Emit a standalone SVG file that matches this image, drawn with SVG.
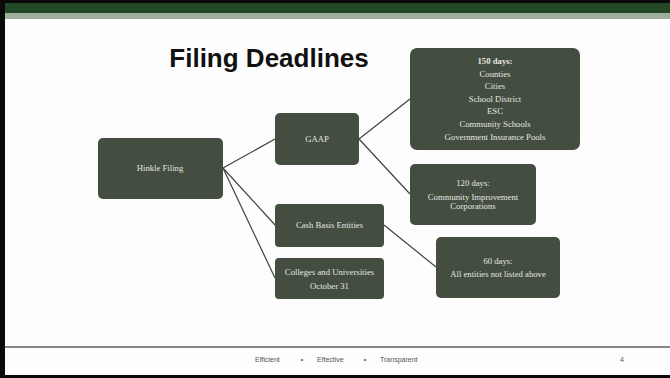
<svg xmlns="http://www.w3.org/2000/svg" width="670" height="378" viewBox="0 0 670 378">
  <style>
    .node rect { fill: #434d40; }
    .node text { font-family: "Liberation Serif", "Times New Roman", serif; font-size: 8.7px; fill: #e4e7e0; text-anchor: middle; }
    .edge { stroke: #3c4539; stroke-width: 1.2; fill: none; }
    .foot { font-family: "Liberation Sans", Arial, sans-serif; font-size: 7px; fill: #555; }
  </style>

  <!-- slide frame -->
  <rect x="0" y="0" width="670" height="378" fill="#fdfdfd"/>
  <rect x="0" y="0" width="670" height="3" fill="#0a0a0a"/>
  <rect x="0" y="3" width="670" height="10" fill="#224827"/>
  <rect x="0" y="13" width="670" height="6" fill="#9daf9c"/>
  <rect x="0" y="0" width="5" height="378" fill="#0a0a0a"/>
  <rect x="0" y="375" width="670" height="3" fill="#0a0a0a"/>
  <line x1="5" y1="347" x2="670" y2="347" stroke="#5f5f5f" stroke-width="1.5"/>

  <!-- title -->
  <text x="269" y="67" font-family="'Liberation Sans', Arial, sans-serif" font-size="26" font-weight="bold" fill="#111" text-anchor="middle">Filing Deadlines</text>

  <!-- connectors -->
  <g id="connectors">
    <line class="edge" x1="223" y1="168" x2="275" y2="139"/>
    <line class="edge" x1="223" y1="168" x2="275" y2="225"/>
    <line class="edge" x1="223" y1="168" x2="275" y2="278"/>
    <line class="edge" x1="359" y1="139" x2="410" y2="99"/>
    <line class="edge" x1="359" y1="139" x2="410" y2="194"/>
    <line class="edge" x1="384" y1="225" x2="436" y2="267"/>
  </g>

  <g id="hinkle" class="node">
    <rect x="98" y="138" width="125" height="61" rx="5"/>
    <text x="160" y="171">Hinkle Filing</text>
  </g>

  <g id="gaap" class="node">
    <rect x="275" y="113" width="84" height="52" rx="5"/>
    <text x="317" y="142">GAAP</text>
  </g>

  <g id="days150" class="node">
    <rect x="410" y="48" width="170" height="102" rx="7"/>
    <text x="495" y="64" font-weight="bold">150 days:</text>
    <text x="495" y="76.6">Counties</text>
    <text x="495" y="89.2">Cities</text>
    <text x="495" y="101.8">School District</text>
    <text x="495" y="114.4">ESC</text>
    <text x="495" y="127">Community Schools</text>
    <text x="495" y="139.6">Government Insurance Pools</text>
  </g>

  <g id="days120" class="node">
    <rect x="410" y="164" width="126" height="61" rx="5"/>
    <text x="473" y="186">120 days:</text>
    <text x="473" y="200">Community Improvement</text>
    <text x="473" y="209">Corporations</text>
  </g>

  <g id="cash" class="node">
    <rect x="275" y="204" width="109" height="43" rx="4"/>
    <text x="329.5" y="228">Cash Basis Entities</text>
  </g>

  <g id="colleges" class="node">
    <rect x="275" y="258" width="109" height="41" rx="4"/>
    <text x="329.5" y="275">Colleges and Universities</text>
    <text x="329.5" y="289">October 31</text>
  </g>

  <g id="days60" class="node">
    <rect x="436" y="237" width="124" height="61" rx="5"/>
    <text x="498" y="264">60 days:</text>
    <text x="498" y="276.5">All entities not listed above</text>
  </g>

  <!-- footer -->
  <g id="footer">
    <text class="foot" x="255" y="362">Efficient</text>
    <text class="foot" x="302" y="362" text-anchor="middle">•</text>
    <text class="foot" x="317" y="362">Effective</text>
    <text class="foot" x="365" y="362" text-anchor="middle">•</text>
    <text class="foot" x="380" y="362">Transparent</text>
    <text class="foot" x="620" y="362">4</text>
  </g>
</svg>
